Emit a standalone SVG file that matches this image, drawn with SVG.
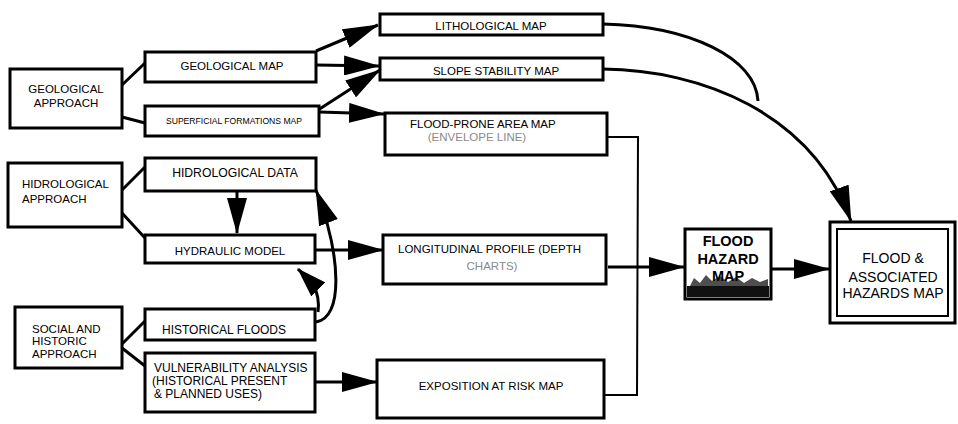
<svg xmlns="http://www.w3.org/2000/svg" width="958" height="424" viewBox="0 0 958 424">
<style>
.box{fill:#fff;stroke:#000;stroke-width:3}
.t{font-family:"Liberation Sans",Arial,sans-serif;font-size:11.5px;fill:#000}
.c{text-anchor:middle}
.faint{fill:#8a8a8a}
.ln{fill:none;stroke:#000;stroke-width:3}
.thin{fill:none;stroke:#000;stroke-width:2}
.big{font-size:14px}
.bold{font-weight:bold;font-size:14.5px}
</style>
<defs>
<marker id="ah" markerUnits="userSpaceOnUse" viewBox="0 0 36 20" markerWidth="36" markerHeight="20" refX="35" refY="10" orient="auto">
<path d="M0,0 L36,10 L0,20 z" fill="#000"/>
</marker>
<marker id="ahs" markerUnits="userSpaceOnUse" viewBox="0 0 30 20" markerWidth="30" markerHeight="20" refX="29" refY="10" orient="auto">
<path d="M0,0 L30,10 L0,20 z" fill="#000"/>
</marker>
</defs>
<rect width="958" height="424" fill="#fff"/>

<g id="connectors">
<line class="ln" x1="122" y1="85" x2="145" y2="63"/>
<line class="ln" x1="122" y1="117" x2="145" y2="123"/>
<line class="ln" x1="122" y1="190" x2="145" y2="167"/>
<line class="ln" x1="122" y1="213" x2="145" y2="238"/>
<line class="ln" x1="122" y1="344" x2="145" y2="321"/>
<line class="ln" x1="122" y1="348" x2="145" y2="366"/>
<line class="ln" x1="316" y1="51" x2="378" y2="25" marker-end="url(#ah)"/>
<line class="ln" x1="316" y1="65" x2="379" y2="66" marker-end="url(#ah)"/>
<line class="ln" x1="318" y1="110" x2="380" y2="70" marker-end="url(#ah)"/>
<line class="ln" x1="319" y1="112" x2="384" y2="114" marker-end="url(#ah)"/>
<line class="ln" x1="237" y1="191" x2="237" y2="233" marker-end="url(#ah)"/>
<line class="ln" x1="315" y1="250" x2="383" y2="250" marker-end="url(#ah)"/>
<path class="ln" d="M316,322 C343,318 342,258 316,190" marker-end="url(#ah)"/>
<path class="ln" d="M318,312 Q320,297 313,284 L298,269" marker-end="url(#ahs)"/>
<line class="ln" x1="315" y1="382" x2="377" y2="382" marker-end="url(#ah)"/>
<path class="ln" d="M603,24 C690,26 756,58 758,101"/>
<path class="ln" d="M603,69 C700,70 812,112 851,221" marker-end="url(#ah)"/>
<polyline class="thin" points="607,137 638,137 637,395 604,395"/>
<line class="ln" x1="608" y1="267" x2="684" y2="267" marker-end="url(#ah)"/>
<line class="ln" x1="771" y1="269" x2="829" y2="269" marker-end="url(#ah)"/>
</g>

<g id="geological-approach">
<rect class="box" x="10" y="69" width="112" height="59"/>
<text class="t c" x="66" y="93">GEOLOGICAL</text>
<text class="t c" x="66" y="107">APPROACH</text>
</g>
<g id="geological-map">
<rect class="box" x="145" y="52" width="171" height="30"/>
<text class="t c" x="232" y="70">GEOLOGICAL MAP</text>
</g>
<g id="superficial-formations-map">
<rect class="box" x="145" y="106" width="174" height="30"/>
<text class="t c" x="234" y="124" style="font-size:8.6px">SUPERFICIAL FORMATIONS MAP</text>
</g>
<g id="lithological-map">
<rect class="box" x="380" y="14" width="223" height="21"/>
<text class="t c" x="491" y="30">LITHOLOGICAL MAP</text>
</g>
<g id="slope-stability-map">
<rect class="box" x="380" y="58" width="223" height="22"/>
<text class="t c" x="496" y="75">SLOPE STABILITY MAP</text>
</g>
<g id="flood-prone-area-map">
<rect class="box" x="385" y="113" width="222" height="42"/>
<text class="t" x="410" y="128">FLOOD-PRONE AREA MAP</text>
<text class="t c faint" x="477" y="141">(ENVELOPE LINE)</text>
</g>
<g id="hidrological-approach">
<rect class="box" x="8" y="163" width="114" height="64"/>
<text class="t" x="22" y="188">HIDROLOGICAL</text>
<text class="t" x="22" y="203">APPROACH</text>
</g>
<g id="hidrological-data">
<rect class="box" x="145" y="158" width="171" height="33"/>
<text class="t c" x="235" y="177" style="font-size:12.2px">HIDROLOGICAL DATA</text>
</g>
<g id="hydraulic-model">
<rect class="box" x="145" y="235" width="170" height="28"/>
<text class="t c" x="230" y="255">HYDRAULIC MODEL</text>
</g>
<g id="longitudinal-profile">
<rect class="box" x="383" y="235" width="223" height="49"/>
<text class="t" x="398" y="253">LONGITUDINAL PROFILE (DEPTH</text>
<text class="t c faint" x="492" y="270">CHARTS)</text>
</g>
<g id="social-historic-approach">
<rect class="box" x="15" y="307" width="107" height="61"/>
<text class="t" x="32" y="333">SOCIAL AND</text>
<text class="t" x="32" y="345">HISTORIC</text>
<text class="t" x="32" y="358">APPROACH</text>
</g>
<g id="historical-floods">
<rect class="box" x="145" y="309" width="170" height="31"/>
<text class="t" x="162" y="334" style="font-size:12px">HISTORICAL FLOODS</text>
</g>
<g id="vulnerability-analysis">
<rect class="box" x="145" y="353" width="170" height="59"/>
<text class="t" x="154" y="372" style="font-size:12px">VULNERABILITY ANALYSIS</text>
<text class="t" x="152" y="385" style="font-size:12px">(HISTORICAL PRESENT</text>
<text class="t" x="154" y="398" style="font-size:12px">&amp; PLANNED USES)</text>
</g>
<g id="exposition-at-risk-map">
<rect class="box" x="377" y="360" width="227" height="58"/>
<text class="t c" x="491" y="390">EXPOSITION AT RISK MAP</text>
</g>
<g id="flood-hazard-map">
<rect class="box" x="685" y="229" width="86" height="70"/>
<path d="M687,286 L769,286 L769,297 L687,297 z" fill="#111"/>
<path d="M690,286 L694,278 L700,283 L706,275 L712,281 L720,276 L728,282 L736,277 L744,283 L752,278 L760,282 L768,279 L768,286 z" fill="#222" opacity="0.8"/>
<text class="t c bold" x="728" y="246">FLOOD</text>
<text class="t c bold" x="728" y="264">HAZARD</text>
<text class="t c bold" x="728" y="281">MAP</text>
</g>
<g id="flood-associated-hazards-map">
<rect x="830" y="222" width="125" height="101" fill="#fff" stroke="#000" stroke-width="3"/>
<rect x="837" y="229" width="111" height="87" fill="none" stroke="#000" stroke-width="2"/>
<text class="t c big" x="893" y="263">FLOOD &amp;</text>
<text class="t c big" x="893" y="282">ASSOCIATED</text>
<text class="t c big" x="893" y="298">HAZARDS MAP</text>
</g>
</svg>
